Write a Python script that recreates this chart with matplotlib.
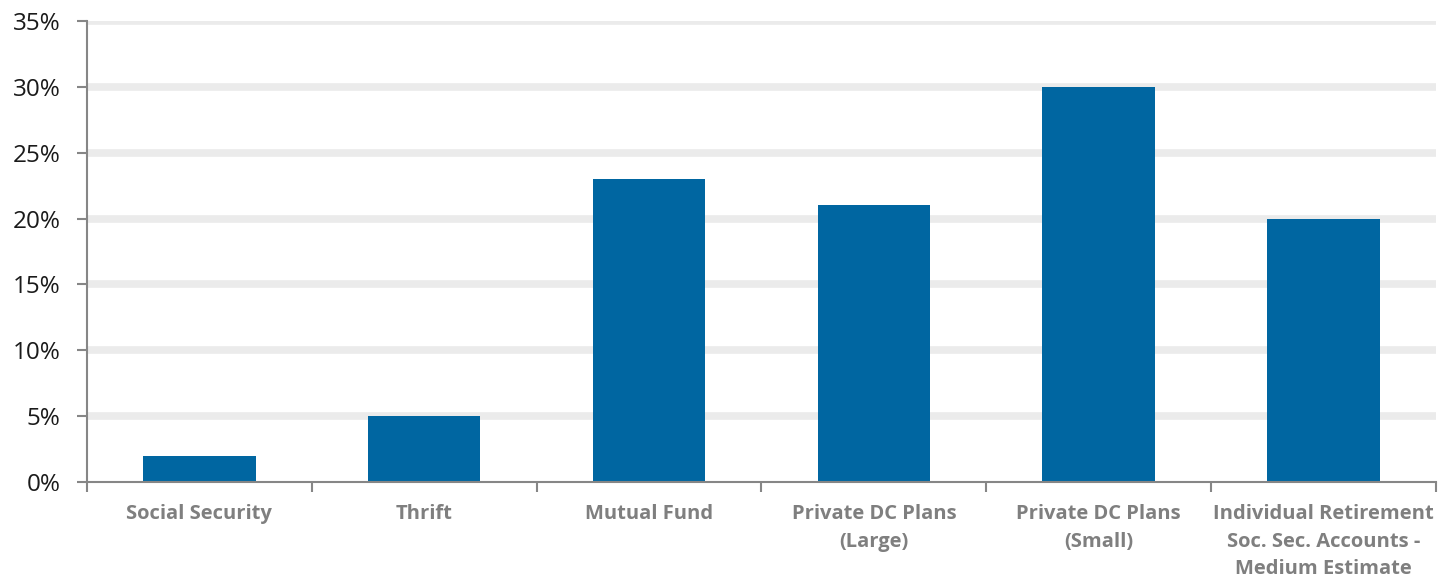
import matplotlib.pyplot as plt
import numpy as np
from matplotlib.ticker import FuncFormatter

plt.rcParams['font.family'] = ['Open Sans', 'DejaVu Sans']

categories = [
    "Social Security",
    "Thrift",
    "Mutual Fund",
    "Private DC Plans\n(Large)",
    "Private DC Plans\n(Small)",
    "Individual Retirement\nSoc. Sec. Accounts -\nMedium Estimate",
]
values = [2, 5, 23, 21, 30, 20]
y_ticks = [0, 5, 10, 15, 20, 25, 30, 35]

fig = plt.figure(figsize=(14.49, 5.79), dpi=100)
ax = fig.add_axes([0.060, 0.1675, 0.931, 0.7962])

x = np.arange(len(categories))
ax.bar(x, values, width=0.5, color="#0066a1", zorder=3)

# thick light bands for the horizontal grid
for t in y_ticks[1:]:
    ax.axhline(t, color="#ebebeb", linewidth=5.5, zorder=1)

ax.set_xlim(-0.5, len(categories) - 0.5)
ax.set_ylim(0, 35)
ax.set_yticks(y_ticks)
ax.yaxis.set_major_formatter(FuncFormatter(lambda v, _: f"{v:.0f}%"))

# ticks sit on category boundaries, labels in the middle
ax.set_xticks(np.arange(len(categories) + 1) - 0.5)
ax.set_xticklabels([])
ax.set_xticks(x, minor=True)
ax.set_xticklabels(categories, minor=True, fontsize=14.5, fontweight="bold",
                   color="#7f7f7f", linespacing=1.5)
ax.tick_params(axis="x", which="minor", length=0, pad=16)
ax.tick_params(axis="x", which="major", length=7, width=1.5, color="#868686",
               direction="out")
ax.tick_params(axis="y", length=7, width=1.5, color="#868686", labelsize=17.5,
               labelcolor="#1a1a1a", pad=12)

for side in ("top", "right"):
    ax.spines[side].set_visible(False)
for side in ("left", "bottom"):
    ax.spines[side].set_color("#868686")
    ax.spines[side].set_linewidth(1.5)
    ax.spines[side].set_zorder(4)

fig.savefig("out.png", dpi=100)
